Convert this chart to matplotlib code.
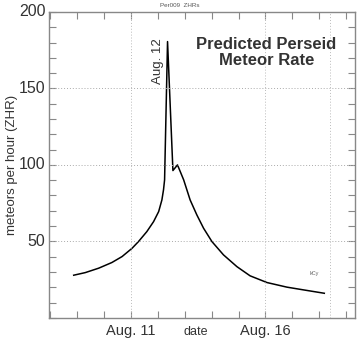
import numpy as np
import matplotlib.pyplot as plt
from matplotlib.ticker import MultipleLocator

plt.rcParams['font.family'] = ['Liberation Sans', 'DejaVu Sans']

# August day (fractional) vs predicted ZHR
day = [8.87, 9.30, 9.80, 10.29, 10.67, 11.04, 11.28, 11.59, 11.84, 12.03,
       12.15, 12.21, 12.25, 12.36, 12.56, 12.73, 12.96, 13.20, 13.45,
       13.70, 14.01, 14.44, 14.94, 15.43, 16.06, 16.80, 17.42, 18.19]
zhr = [27.9, 29.6, 32.5, 36.2, 40.1, 45.5, 49.9, 56.4, 62.9, 69.5,
       77.1, 83.7, 90.2, 180.6, 96.3, 100.0, 90.2, 77.1, 67.3,
       58.6, 49.9, 41.2, 33.5, 27.5, 23.1, 20.1, 18.3, 16.1]

label_days = [11, 16]
label_text = ["Aug. 11", "Aug. 16"]
grid_days = [11, 16, 18.41]
y_labels = [50, 100, 150, 200]

txt = "#333333"
spine = "#888888"

fig = plt.figure(figsize=(3.6, 3.4), dpi=100)
ax = fig.add_axes([0.136, 0.065, 0.850, 0.900])

ax.plot(day, zhr, color="black", lw=1.1)

ax.set_xlim(7.95, 19.33)
ax.set_ylim(0, 200)

# inside ticks on all sides
ax.xaxis.set_major_locator(MultipleLocator(1))
ax.yaxis.set_major_locator(MultipleLocator(10))
ax.tick_params(direction="in", length=5, width=0.8, color=spine,
               top=True, right=True, labelbottom=False, labelleft=False)

for d, t in zip(label_days, label_text):
    ax.text(d, -4, t, ha="center", va="top", fontsize=10.5, color=txt,
            clip_on=False)
ax.text(13.4, -5.5, "date", ha="center", va="top", fontsize=9, color=txt,
        clip_on=False)

for v in y_labels:
    ax.text(7.82, v, str(v), ha="right", va="center", fontsize=11.5,
            color=txt, clip_on=False)

for v in [50, 100, 150]:
    ax.axhline(v, color="#aaaaaa", lw=0.7, ls=(0, (1, 2)))
for d in grid_days:
    ax.axvline(d, color="#bbbbbb", lw=0.7, ls=(0, (1, 2)))

for s in ax.spines.values():
    s.set_color(spine)
    s.set_linewidth(1)

ax.set_ylabel("meteors per hour (ZHR)", fontsize=9.5, color=txt, labelpad=22)

ax.text(12.0, 168, "Aug. 12", rotation=90, ha="center", va="center",
        fontsize=9.5, color=txt)
ax.text(16.03, 173.5, "Predicted Perseid\nMeteor Rate", ha="center",
        va="center", fontsize=12, fontweight="bold", color=txt,
        linespacing=1.15)
ax.text(17.8, 28, "kCy", fontsize=4, color="#666666", ha="center")
fig.text(0.5, 0.99, "Per009  ZHRs", fontsize=4.5, color="#555555",
         ha="center", va="top")

fig.savefig("out.png", dpi=100)
